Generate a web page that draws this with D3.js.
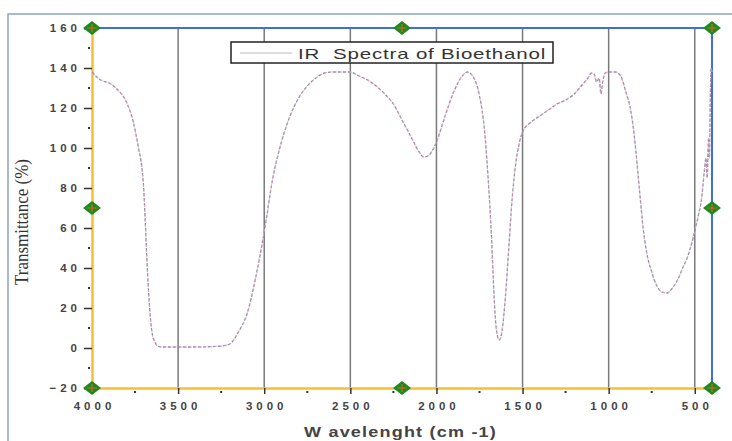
<!DOCTYPE html>
<html>
<head>
<meta charset="utf-8">
<script src="https://cdn.jsdelivr.net/npm/d3@7"></script>
<style>
    body { margin: 0; background: #fff; }
    svg { display: block; }
    .tick-label { font-family: Arial, "Liberation Sans", sans-serif; font-size: 11.5px; font-weight: bold; fill: #444; letter-spacing: 4px; }
</style>
</head>
<body>
<svg id="chart" width="732" height="441"></svg>
<script>
// IR spectrum: wavenumber (cm-1) and transmittance (%)
let wavenumbers = [4000, 3950, 3900, 3850, 3800, 3760, 3730, 3710, 3700, 3690, 3680, 3670, 3660, 3650, 3635, 3620, 3600,
    3400, 3250, 3200, 3150, 3100, 3050, 3000, 2950, 2900, 2850, 2800, 2750, 2700, 2650, 2600, 2500,
    2450, 2400, 2350, 2300, 2250, 2200, 2150, 2100, 2075, 2050, 2000, 1950, 1900, 1850, 1820, 1790,
    1750, 1720, 1700, 1680, 1665, 1650, 1635, 1620, 1600, 1580, 1560, 1540, 1520, 1500, 1450, 1400,
    1350, 1300, 1250, 1200, 1150, 1120, 1100, 1085, 1070, 1055, 1045, 1035, 1020, 1000, 960, 930,
    900, 870, 850, 820, 800, 780, 750, 720, 690, 660, 630, 600, 570, 540, 510, 480, 460, 445, 435,
    428, 420, 415, 410, 405, 400];
let transmittance = [138, 134, 132.5, 129, 123, 113, 100, 90, 80, 62, 42, 26, 14, 7, 3, 1, 0.5,
    0.5, 1, 2, 8, 17, 35, 58, 85, 103, 116, 125, 131, 135, 137.5, 138, 138,
    136, 134, 131, 127, 122, 114, 106, 98, 95.5, 96, 103, 116, 128, 136, 138, 136,
    126, 108, 85, 55, 25, 8, 4, 8, 25, 50, 75, 92, 102, 108, 113, 116,
    119, 122, 124, 127, 132, 135, 137.5, 137, 133, 135, 127, 133, 137.5, 138, 138, 136,
    128, 118, 105, 78, 60, 48, 38, 31, 28, 27.5, 30, 34, 40, 46, 55, 66, 75, 88, 95,
    85, 105, 95, 125, 140, 138];

let xTicks = [4000, 3500, 3000, 2500, 2000, 1500, 1000, 500];
let xMinor = [3750, 3250, 2750, 2250, 1750, 1250, 750];
let yTicks = [-20, 0, 20, 40, 60, 80, 100, 120, 140, 160];
let yMinor = [-10, 10, 30, 50, 70, 90, 110, 130, 150];

let seriesName = "IR  Spectra of Bioethanol";
let xTitle = "W avelenght (cm -1)";
let yTitle = "Transmittance (%)";

let svg = d3.select("#chart");
let margin = { left: 92, right: 712, top: 28, bottom: 388 };

let x = d3.scaleLinear().domain([4000, 400]).range([margin.left, margin.right]);
let y = d3.scaleLinear().domain([-20, 160]).range([margin.bottom, margin.top]);

// outer frame of the pasted window
svg.append("rect")
    .attr("x", 8).attr("y", 14)
    .attr("width", 740).attr("height", 440)
    .attr("fill", "none")
    .attr("stroke", "#8ea3bb")
    .attr("stroke-width", 1.5);

// vertical grid lines
svg.append("g")
    .selectAll("line")
    .data(xTicks.slice(1))
    .enter().append("line")
    .attr("x1", d => x(d)).attr("x2", d => x(d))
    .attr("y1", margin.top).attr("y2", margin.bottom)
    .attr("stroke", "#7a7a7a")
    .attr("stroke-width", 1.5);

// top and right frame
svg.append("line")
    .attr("x1", margin.left).attr("x2", margin.right)
    .attr("y1", margin.top).attr("y2", margin.top)
    .attr("stroke", "#3d6fe0").attr("stroke-width", 2);
svg.append("line")
    .attr("x1", margin.right).attr("x2", margin.right)
    .attr("y1", margin.top).attr("y2", margin.bottom)
    .attr("stroke", "#3d6fe0").attr("stroke-width", 2);

// bottom axis
let xAxis = d3.axisBottom(x).tickValues(xTicks).tickSize(6).tickFormat(d3.format("d"));
let gx = svg.append("g")
    .attr("transform", `translate(0, ${margin.bottom})`)
    .call(xAxis);
gx.select(".domain").attr("stroke", "#f5c030").attr("stroke-width", 2.5);
gx.selectAll(".tick line").attr("stroke", "#333").attr("stroke-width", 1.5);
gx.selectAll(".tick text").attr("class", "tick-label").attr("dy", "1.1em").attr("dx", 2);

svg.append("g")
    .selectAll("rect")
    .data(xMinor)
    .enter().append("rect")
    .attr("x", d => x(d) - 1).attr("y", margin.bottom + 3)
    .attr("width", 2).attr("height", 2)
    .attr("fill", "#333");

// left axis
let yAxis = d3.axisLeft(y).tickValues(yTicks).tickSize(8).tickFormat(d3.format("d"));
let gy = svg.append("g")
    .attr("transform", `translate(${margin.left}, 0)`)
    .call(yAxis);
gy.select(".domain").attr("stroke", "#f5c030").attr("stroke-width", 2.5);
gy.selectAll(".tick line").attr("stroke", "#333").attr("stroke-width", 1.5);
gy.selectAll(".tick text").attr("class", "tick-label").attr("x", -11);

svg.append("g")
    .selectAll("rect")
    .data(yMinor)
    .enter().append("rect")
    .attr("x", margin.left - 4).attr("y", d => y(d) - 1)
    .attr("width", 2).attr("height", 2)
    .attr("fill", "#333");

// spectrum
let spectrum = wavenumbers.map((w, i) => ({ w: w, t: transmittance[i] }));
let line = d3.line()
    .x(d => x(d.w))
    .y(d => y(d.t))
    .curve(d3.curveMonotoneX);

svg.append("path")
    .datum(spectrum)
    .attr("d", line)
    .attr("fill", "none")
    .attr("stroke", "#8f90ae")
    .attr("stroke-width", 1.3)
    .attr("stroke-dasharray", "3,2");
svg.append("path")
    .datum(spectrum)
    .attr("d", line)
    .attr("fill", "none")
    .attr("stroke", "#e0a0b8")
    .attr("stroke-width", 1.1)
    .attr("stroke-dasharray", "2,3")
    .attr("stroke-dashoffset", 3);

// legend
let legend = svg.append("g").attr("transform", "translate(231, 42)");
legend.append("rect")
    .attr("width", 322).attr("height", 21)
    .attr("fill", "#fff")
    .attr("stroke", "#222")
    .attr("stroke-width", 1.5);
legend.append("line")
    .attr("x1", 9).attr("x2", 61)
    .attr("y1", 11).attr("y2", 11)
    .attr("stroke", "#b8b8c8").attr("stroke-width", 1.2);
legend.append("text")
    .attr("x", 67).attr("y", 16.5)
    .attr("textLength", 248)
    .attr("lengthAdjust", "spacingAndGlyphs")
    .style("font-family", "Arial, 'Liberation Sans', sans-serif")
    .style("font-size", "15px")
    .style("letter-spacing", "0.6px")
    .attr("fill", "#333")
    .attr("xml:space", "preserve")
    .text(seriesName);

// selection handles
let handles = [
    [4000, 160], [2200, 160], [400, 160],
    [4000, 70], [400, 70],
    [4000, -20], [2200, -20], [400, -20]
];
let hg = svg.append("g")
    .selectAll("g")
    .data(handles)
    .enter().append("g")
    .attr("transform", d => `translate(${x(d[0])}, ${y(d[1])})`);
hg.append("path")
    .attr("d", "M-9,0L0,-7L9,0L0,7Z")
    .attr("fill", "#1e8a1e");
hg.append("path")
    .attr("d", "M-5,0H5M0,-4V4")
    .attr("stroke", "#d2691e")
    .attr("stroke-width", 1.2);

// axis titles
svg.append("text")
    .attr("x", 304).attr("y", 437)
    .attr("textLength", 193)
    .attr("lengthAdjust", "spacingAndGlyphs")
    .style("font-family", "Arial, 'Liberation Sans', sans-serif")
    .style("font-size", "15px")
    .style("letter-spacing", "1px")
    .style("font-weight", "bold")
    .attr("fill", "#444")
    .attr("xml:space", "preserve")
    .text(xTitle);

svg.append("text")
    .attr("transform", "translate(28, 222) rotate(-90)")
    .attr("text-anchor", "middle")
    .attr("textLength", 126)
    .attr("lengthAdjust", "spacingAndGlyphs")
    .style("font-family", "'Liberation Serif', 'Times New Roman', serif")
    .style("font-size", "18px")
    .attr("fill", "#333")
    .text(yTitle);
</script>
</body>
</html>
